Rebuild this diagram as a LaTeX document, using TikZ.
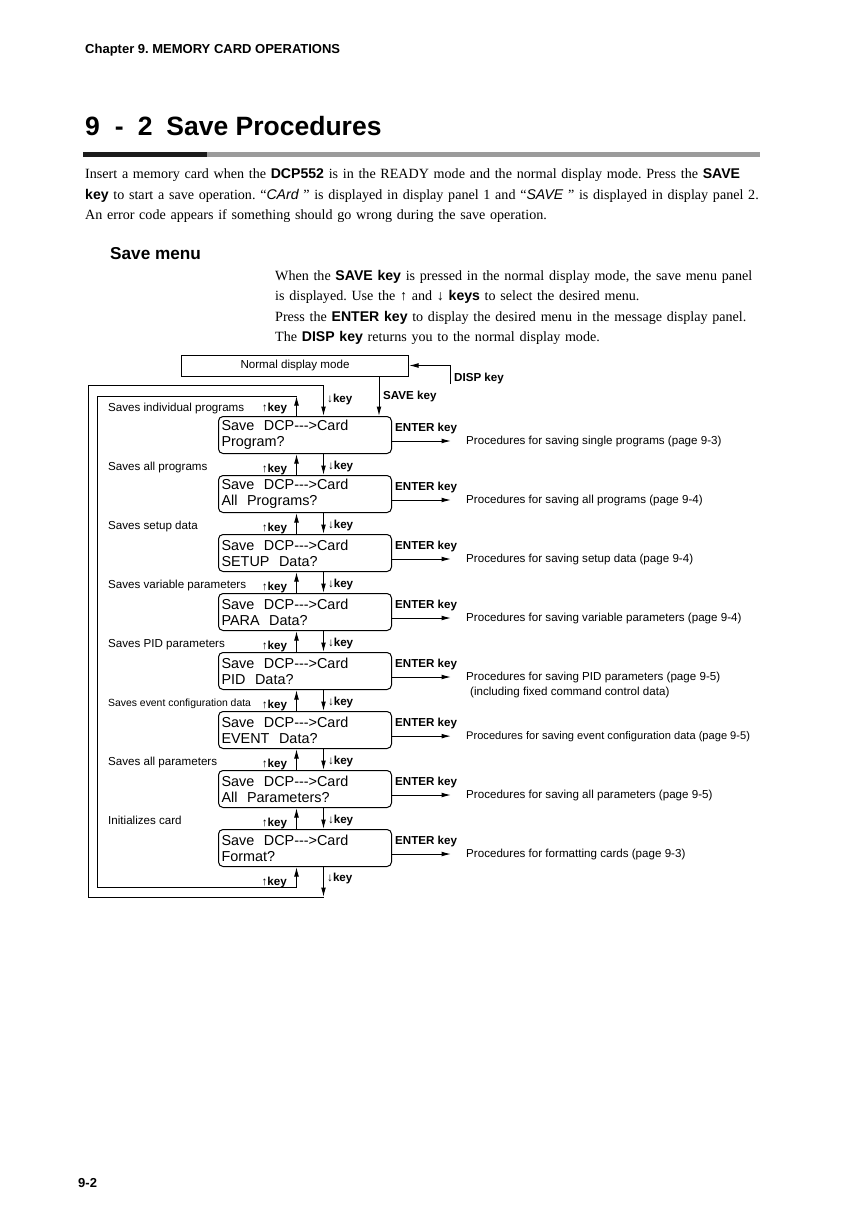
\documentclass[tikz,border=0pt]{standalone}
\usepackage{fontspec}
\setmainfont{Liberation Serif}
\setsansfont{Liberation Sans}
\newfontfamily\lcdfont{Liberation Sans}[Ligatures=TeXOff]
\usetikzlibrary{arrows.meta,positioning,calc}
\definecolor{ruledark}{HTML}{1C1C1C}
\definecolor{rulegray}{HTML}{9B9B9B}
\newcommand{\sbf}[1]{{\sffamily\bfseries #1}}
\newcommand{\sit}[1]{{\sffamily\itshape #1}}
\newcommand{\upkey}{{\mdseries ↑}key}
\newcommand{\dnkey}{{\mdseries ↓}key}
\frenchspacing
\tikzset{
  menubox/.style={draw, line width=1pt, rounded corners=4.5pt, anchor=north west,
                  minimum width=173pt, minimum height=37pt, inner sep=3pt,
                  text width=167pt, align=left, font=\lcdfont\fontsize{14.4}{16}\selectfont},
  modebox/.style={draw, line width=1pt, anchor=north west, minimum width=227pt,
                  minimum height=21pt, inner sep=0pt, font=\sffamily\fontsize{11.6}{13}\selectfont},
  note/.style={anchor=base west, inner sep=0pt, font=\sffamily\fontsize{11.6}{13}\selectfont},
  keynote/.style={note, font=\sffamily\bfseries\fontsize{11.6}{13}\selectfont},
  bodytext/.style={anchor=base west, inner sep=0pt, align=left,
                   font=\fontsize{14.1}{20.5}\selectfont},
  arr/.style={-{Latex[length=9.5pt,width=4.8pt]}, line width=1pt},
  loopline/.style={line width=1pt}}

\begin{document}
\begin{tikzpicture}[x=1pt, y=-1pt]
  \useasboundingbox[fill=white] (0,0) rectangle (867,1227);
  % page head and section title
  \node[anchor=base west, inner sep=0pt, font=\sffamily\bfseries\fontsize{13}{15}\selectfont]
    (chap) at (85,53) {Chapter 9. MEMORY CARD OPERATIONS};
  \node[anchor=base west, inner sep=0pt, font=\sffamily\bfseries\fontsize{26.5}{30}\selectfont]
    (title) at (85,135) {9\hspace{15pt}-\hspace{14pt}2\hspace{14pt}Save Procedures};
  \fill[ruledark] (83,151.5) rectangle (207,156.5);
  \fill[rulegray] (207,151.5) rectangle (760,156.5);
  \node[bodytext, text width=700pt] (intro) at (85,178.5)
    {Insert a memory card when the \sbf{DCP552} is in the READY mode and the normal display mode. Press the \sbf{SAVE}\\
     \sbf{key} to start a save operation. “\sit{CArd} ” is displayed in display panel 1 and “\sit{SAVE} ” is displayed in display panel 2.\\
     An error code appears if something should go wrong during the save operation.};
  \node[anchor=base west, inner sep=0pt, font=\sffamily\bfseries\fontsize{17.2}{20}\selectfont]
    (menuhead) at (110,259) {Save menu};
  \node[bodytext, text width=560pt] (howto) at (275,280)
    {When the \sbf{SAVE key} is pressed in the normal display mode, the save menu panel\\
     is displayed. Use the ↑ and ↓ \sbf{keys} to select the desired menu.\\
     Press the \sbf{ENTER key} to display the desired menu in the message display panel.\\
     The \sbf{DISP key} returns you to the normal display mode.};
  % the save menu panels
  \node[modebox] (nd) at (181,354.5) {Normal display mode};
  \node[menubox] (b1) at (218,416) {Save\ \ DCP--->Card\\Program?};
  \node[menubox] (b2) at (218,475) {Save\ \ DCP--->Card\\All\ \ Programs?};
  \node[menubox] (b3) at (218,534) {Save\ \ DCP--->Card\\SETUP\ \ Data?};
  \node[menubox] (b4) at (218,593) {Save\ \ DCP--->Card\\PARA\ \ Data?};
  \node[menubox] (b5) at (218,652) {Save\ \ DCP--->Card\\PID\ \ Data?};
  \node[menubox] (b6) at (218,711) {Save\ \ DCP--->Card\\EVENT\ \ Data?};
  \node[menubox] (b7) at (218,770) {Save\ \ DCP--->Card\\All\ \ Parameters?};
  \node[menubox] (b8) at (218,829) {Save\ \ DCP--->Card\\Format?};
  % what each panel saves
  \node[note] (s1) at (108,411) {Saves individual programs};
  \node[note] (s2) at (108,470) {Saves all programs};
  \node[note] (s3) at (108,529) {Saves setup data};
  \node[note] (s4) at (108,588) {Saves variable parameters};
  \node[note] (s5) at (108,647) {Saves PID parameters};
  \node[note, font=\sffamily\fontsize{10.4}{12}\selectfont] (s6) at (108,706) {Saves event configuration data};
  \node[note] (s7) at (108,765) {Saves all parameters};
  \node[note] (s8) at (108,824) {Initializes card};
  % ENTER key and where it leads
  \node[keynote] (e1) at (395,431) {ENTER key};
  \node[keynote] (e2) at (395,490) {ENTER key};
  \node[keynote] (e3) at (395,549) {ENTER key};
  \node[keynote] (e4) at (395,608) {ENTER key};
  \node[keynote] (e5) at (395,667) {ENTER key};
  \node[keynote] (e6) at (395,726) {ENTER key};
  \node[keynote] (e7) at (395,785) {ENTER key};
  \node[keynote] (e8) at (395,844) {ENTER key};
  \node[note] (p1) at (466,444) {Procedures for saving single programs (page 9-3)};
  \node[note] (p2) at (466,503) {Procedures for saving all programs (page 9-4)};
  \node[note] (p3) at (466,562) {Procedures for saving setup data (page 9-4)};
  \node[note] (p4) at (466,621) {Procedures for saving variable parameters (page 9-4)};
  \node[note] (p5) at (466,680) {Procedures for saving PID parameters (page 9-5)};
  \node[note] (p5b) at (470,695) {(including fixed command control data)};
  \node[note, font=\sffamily\fontsize{11.1}{13}\selectfont] (p6) at (466,739)
    {Procedures for saving event configuration data (page 9-5)};
  \node[note] (p7) at (466,798) {Procedures for saving all parameters (page 9-5)};
  \node[note] (p8) at (466,857) {Procedures for formatting cards (page 9-3)};
  \foreach \k in {1,...,8}
    \draw[arr] (b\k.east |- p\k.west) -- ([xshift=-15pt]p\k.west);
  % SAVE key in, DISP key back
  \coordinate (savex) at ([xshift=-30pt]nd.south east);
  \draw[arr] (savex) -- (savex |- b1.north);
  \node[keynote] (savek) at (383,399) {SAVE key};
  \coordinate (dispfoot) at (450,384);
  \draw[arr] (dispfoot) |- (nd.east);
  \node[keynote] (dispk) at (454,381) {DISP key};
  % up and down keys between the panels
  \coordinate (ux) at ([xshift=-8.5pt]b1.north);
  \coordinate (dx) at ([xshift=18.5pt]b1.north);
  \foreach \hi/\lo in {b1/b2,b2/b3,b3/b4,b4/b5,b5/b6,b6/b7,b7/b8} {
    \draw[arr] (ux |- \lo.north) -- (ux |- \hi.south)
      node[midway, keynote, anchor=base east, xshift=-9pt, yshift=-8pt] {\upkey};
    \draw[arr] (dx |- \hi.south) -- (dx |- \lo.north)
      node[midway, keynote, anchor=base west, xshift=4pt, yshift=-5pt] {\dnkey};
  }
  % wrap round: up from the first panel, down from the last
  \coordinate (itl) at (97,396);
  \coordinate (ibl) at (97,887);
  \coordinate (otl) at (88,385);
  \coordinate (obl) at (88,897);
  \draw[arr] (ux |- b1.north) -- (ux |- itl)
    node[midway, keynote, anchor=base east, xshift=-9pt, yshift=-5pt] {\upkey};
  \draw[arr] (ux |- itl) -- (itl) -- (ibl) -- (ux |- ibl) -- (ux |- b8.south);
  \node[keynote, anchor=base east] (upend) at (287,885) {\upkey};
  \draw[arr] (dx |- otl) -- (dx |- b1.north);
  \draw[loopline] (dx |- otl) -- (otl) -- (obl) -- (dx |- obl);
  \node[keynote] (dntop) at (327,402) {\dnkey};
  \draw[arr] (dx |- b8.south) -- (dx |- obl);
  \node[keynote] (dnend) at (327,881) {\dnkey};
  % page number
  \node[anchor=base west, inner sep=0pt, font=\sffamily\bfseries\fontsize{13}{15}\selectfont]
    (pageno) at (78,1187) {9-2};
\end{tikzpicture}
\end{document}
